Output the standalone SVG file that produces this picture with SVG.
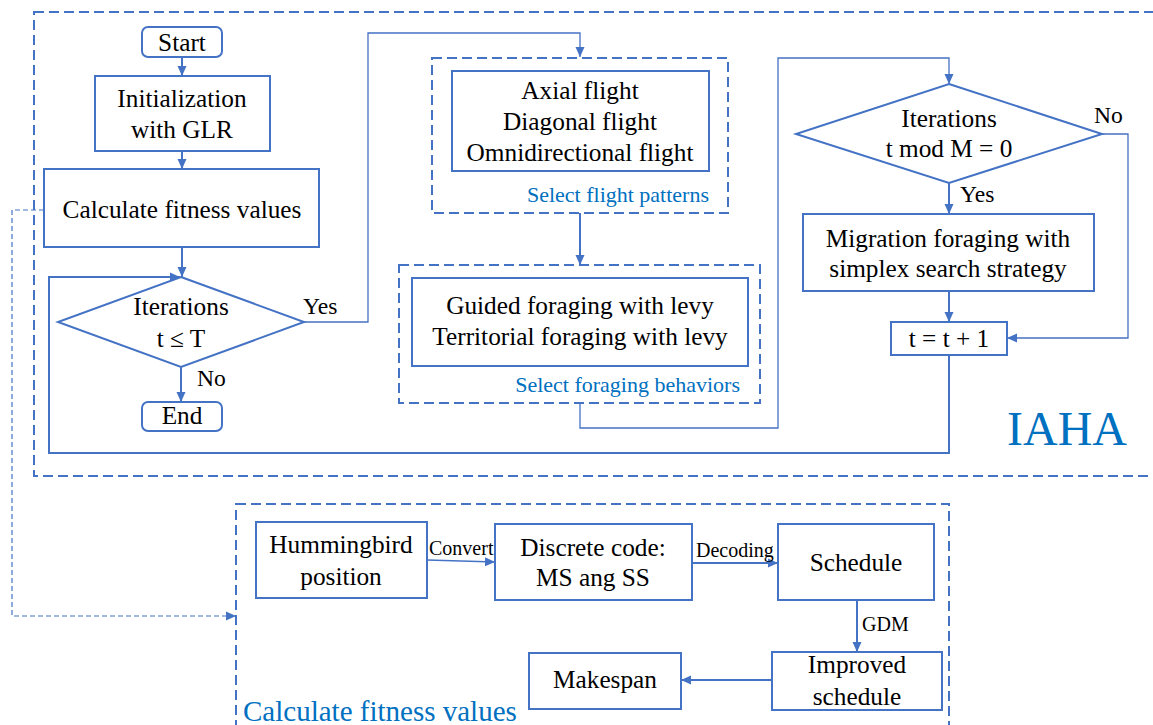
<svg xmlns="http://www.w3.org/2000/svg" width="1153" height="725" viewBox="0 0 1153 725" font-family="'Liberation Serif', 'Times New Roman', serif">
<style>
text{font-family:'Liberation Serif','Times New Roman',serif}
.box{fill:#fff;stroke:#4472C4;stroke-width:2}
.dbox{fill:none;stroke:#4472C4;stroke-width:2;stroke-dasharray:10 5}
.t{font-size:25.3px;fill:#000;text-anchor:middle}
.lbl{font-size:23.6px;fill:#000}
.sm{font-size:20px;fill:#000}
.bl{font-size:22px;fill:#0070C0}
.ln{fill:none;stroke:#4472C4;stroke-width:2}
.thin{fill:none;stroke:#4472C4;stroke-width:1.3}
.dash{fill:none;stroke:#4472C4;stroke-width:1.2;stroke-dasharray:5 3}
</style>
<defs>
<marker id="ah" markerUnits="userSpaceOnUse" markerWidth="10" markerHeight="10" viewBox="0 0 10 10" refX="10" refY="5" orient="auto">
<path d="M0,0.5 L10,5 L0,9.5 z" fill="#4472C4"/>
</marker>
</defs>

<g id="iaha-frame">
<rect class="dbox" x="34" y="12" width="1135" height="464"/>
<text x="1007" y="445" font-size="48" fill="#0070C0">IAHA</text>
</g>

<g id="fitness-frame">
<rect class="dbox" x="236" y="504" width="713" height="240"/>
<text x="243" y="721" font-size="29" fill="#0070C0">Calculate fitness values</text>
</g>

<g id="connectors">
<path class="ln" d="M182,57 V76" marker-end="url(#ah)"/>
<path class="ln" d="M182,151 V169" marker-end="url(#ah)"/>
<path class="ln" d="M182,247 V277" marker-end="url(#ah)"/>
<path class="ln" d="M949,355 V453 H49 V277 H180" marker-end="url(#ah)"/>
<path class="thin" d="M304,322 H368 V33 H580 V57" marker-end="url(#ah)"/>
<path class="ln" d="M181,367 V402" marker-end="url(#ah)"/>
<path class="ln" d="M580,213 V265" marker-end="url(#ah)"/>
<path class="thin" d="M580,403 V428 H778 V58 H949 V84" marker-end="url(#ah)"/>
<path class="ln" d="M949,183 V214" marker-end="url(#ah)"/>
<path class="thin" d="M1102,134 H1128 V338 H1007" marker-end="url(#ah)"/>
<path class="ln" d="M949,291 V322" marker-end="url(#ah)"/>
<path class="dash" d="M44,210 H12 V616 H236" marker-end="url(#ah)"/>
<path class="thin" d="M427,560 L495,562" marker-end="url(#ah)"/>
<path class="ln" d="M692,563 H778" marker-end="url(#ah)"/>
<path class="ln" d="M857,600 V652" marker-end="url(#ah)"/>
<path class="ln" d="M772,680 H681" marker-end="url(#ah)"/>
<text class="lbl" x="303" y="314">Yes</text>
<text class="lbl" x="197" y="386">No</text>
<text class="lbl" x="1094" y="123">No</text>
<text class="lbl" x="960" y="202">Yes</text>
<text class="sm" x="429" y="555">Convert</text>
<text class="sm" x="696" y="557">Decoding</text>
<text class="sm" x="862" y="631">GDM</text>
</g>

<g id="start">
<rect class="box" x="142" y="27" width="80" height="30" rx="6"/>
<text class="t" x="182" y="51">Start</text>
</g>
<g id="init">
<rect class="box" x="95" y="76" width="175" height="75"/>
<text class="t" x="182" y="107">Initialization</text>
<text class="t" x="182" y="138">with GLR</text>
</g>
<g id="calc">
<rect class="box" x="44" y="169" width="275" height="78"/>
<text class="t" x="182" y="218">Calculate fitness values</text>
</g>
<g id="cond1">
<polygon class="box" points="181,277 304,322 181,367 58,322"/>
<text class="t" x="181" y="315">Iterations</text>
<text class="t" x="181" y="347">t ≤ T</text>
</g>
<g id="end">
<rect class="box" x="142" y="402" width="80" height="29" rx="6"/>
<text class="t" x="182" y="424">End</text>
</g>
<g id="flight">
<rect class="dbox" x="432" y="58" width="296" height="155"/>
<rect class="box" x="452" y="71" width="257" height="100"/>
<text class="t" x="580" y="99">Axial flight</text>
<text class="t" x="580" y="130">Diagonal flight</text>
<text class="t" x="580" y="161">Omnidirectional flight</text>
<text class="bl" x="709" y="202" text-anchor="end">Select flight patterns</text>
</g>
<g id="foraging">
<rect class="dbox" x="399" y="265" width="361" height="138"/>
<rect class="box" x="412" y="278" width="336" height="88"/>
<text class="t" x="580" y="314">Guided foraging with levy</text>
<text class="t" x="580" y="345">Territorial foraging with levy</text>
<text class="bl" x="740" y="392" text-anchor="end">Select foraging behaviors</text>
</g>
<g id="cond2">
<polygon class="box" points="949,84 1102,134 949,183 796,134"/>
<text class="t" x="949" y="127">Iterations</text>
<text class="t" x="949" y="157">t mod M = 0</text>
</g>
<g id="migration">
<rect class="box" x="803" y="214" width="291" height="77"/>
<text class="t" x="948" y="247">Migration foraging with</text>
<text class="t" x="948" y="277">simplex search strategy</text>
</g>
<g id="increment">
<rect class="box" x="891" y="322" width="116" height="33"/>
<text class="t" x="949" y="347">t = t + 1</text>
</g>
<g id="hummingbird">
<rect class="box" x="256" y="522" width="171" height="76"/>
<text class="t" x="341" y="553">Hummingbird</text>
<text class="t" x="341" y="585">position</text>
</g>
<g id="discrete">
<rect class="box" x="495" y="524" width="197" height="76"/>
<text class="t" x="593" y="556">Discrete code:</text>
<text class="t" x="593" y="586">MS ang SS</text>
</g>
<g id="schedule">
<rect class="box" x="778" y="524" width="156" height="76"/>
<text class="t" x="856" y="571">Schedule</text>
</g>
<g id="improved">
<rect class="box" x="772" y="652" width="170" height="58"/>
<text class="t" x="857" y="673">Improved</text>
<text class="t" x="857" y="705">schedule</text>
</g>
<g id="makespan">
<rect class="box" x="529" y="653" width="152" height="56"/>
<text class="t" x="605" y="688">Makespan</text>
</g>
</svg>
